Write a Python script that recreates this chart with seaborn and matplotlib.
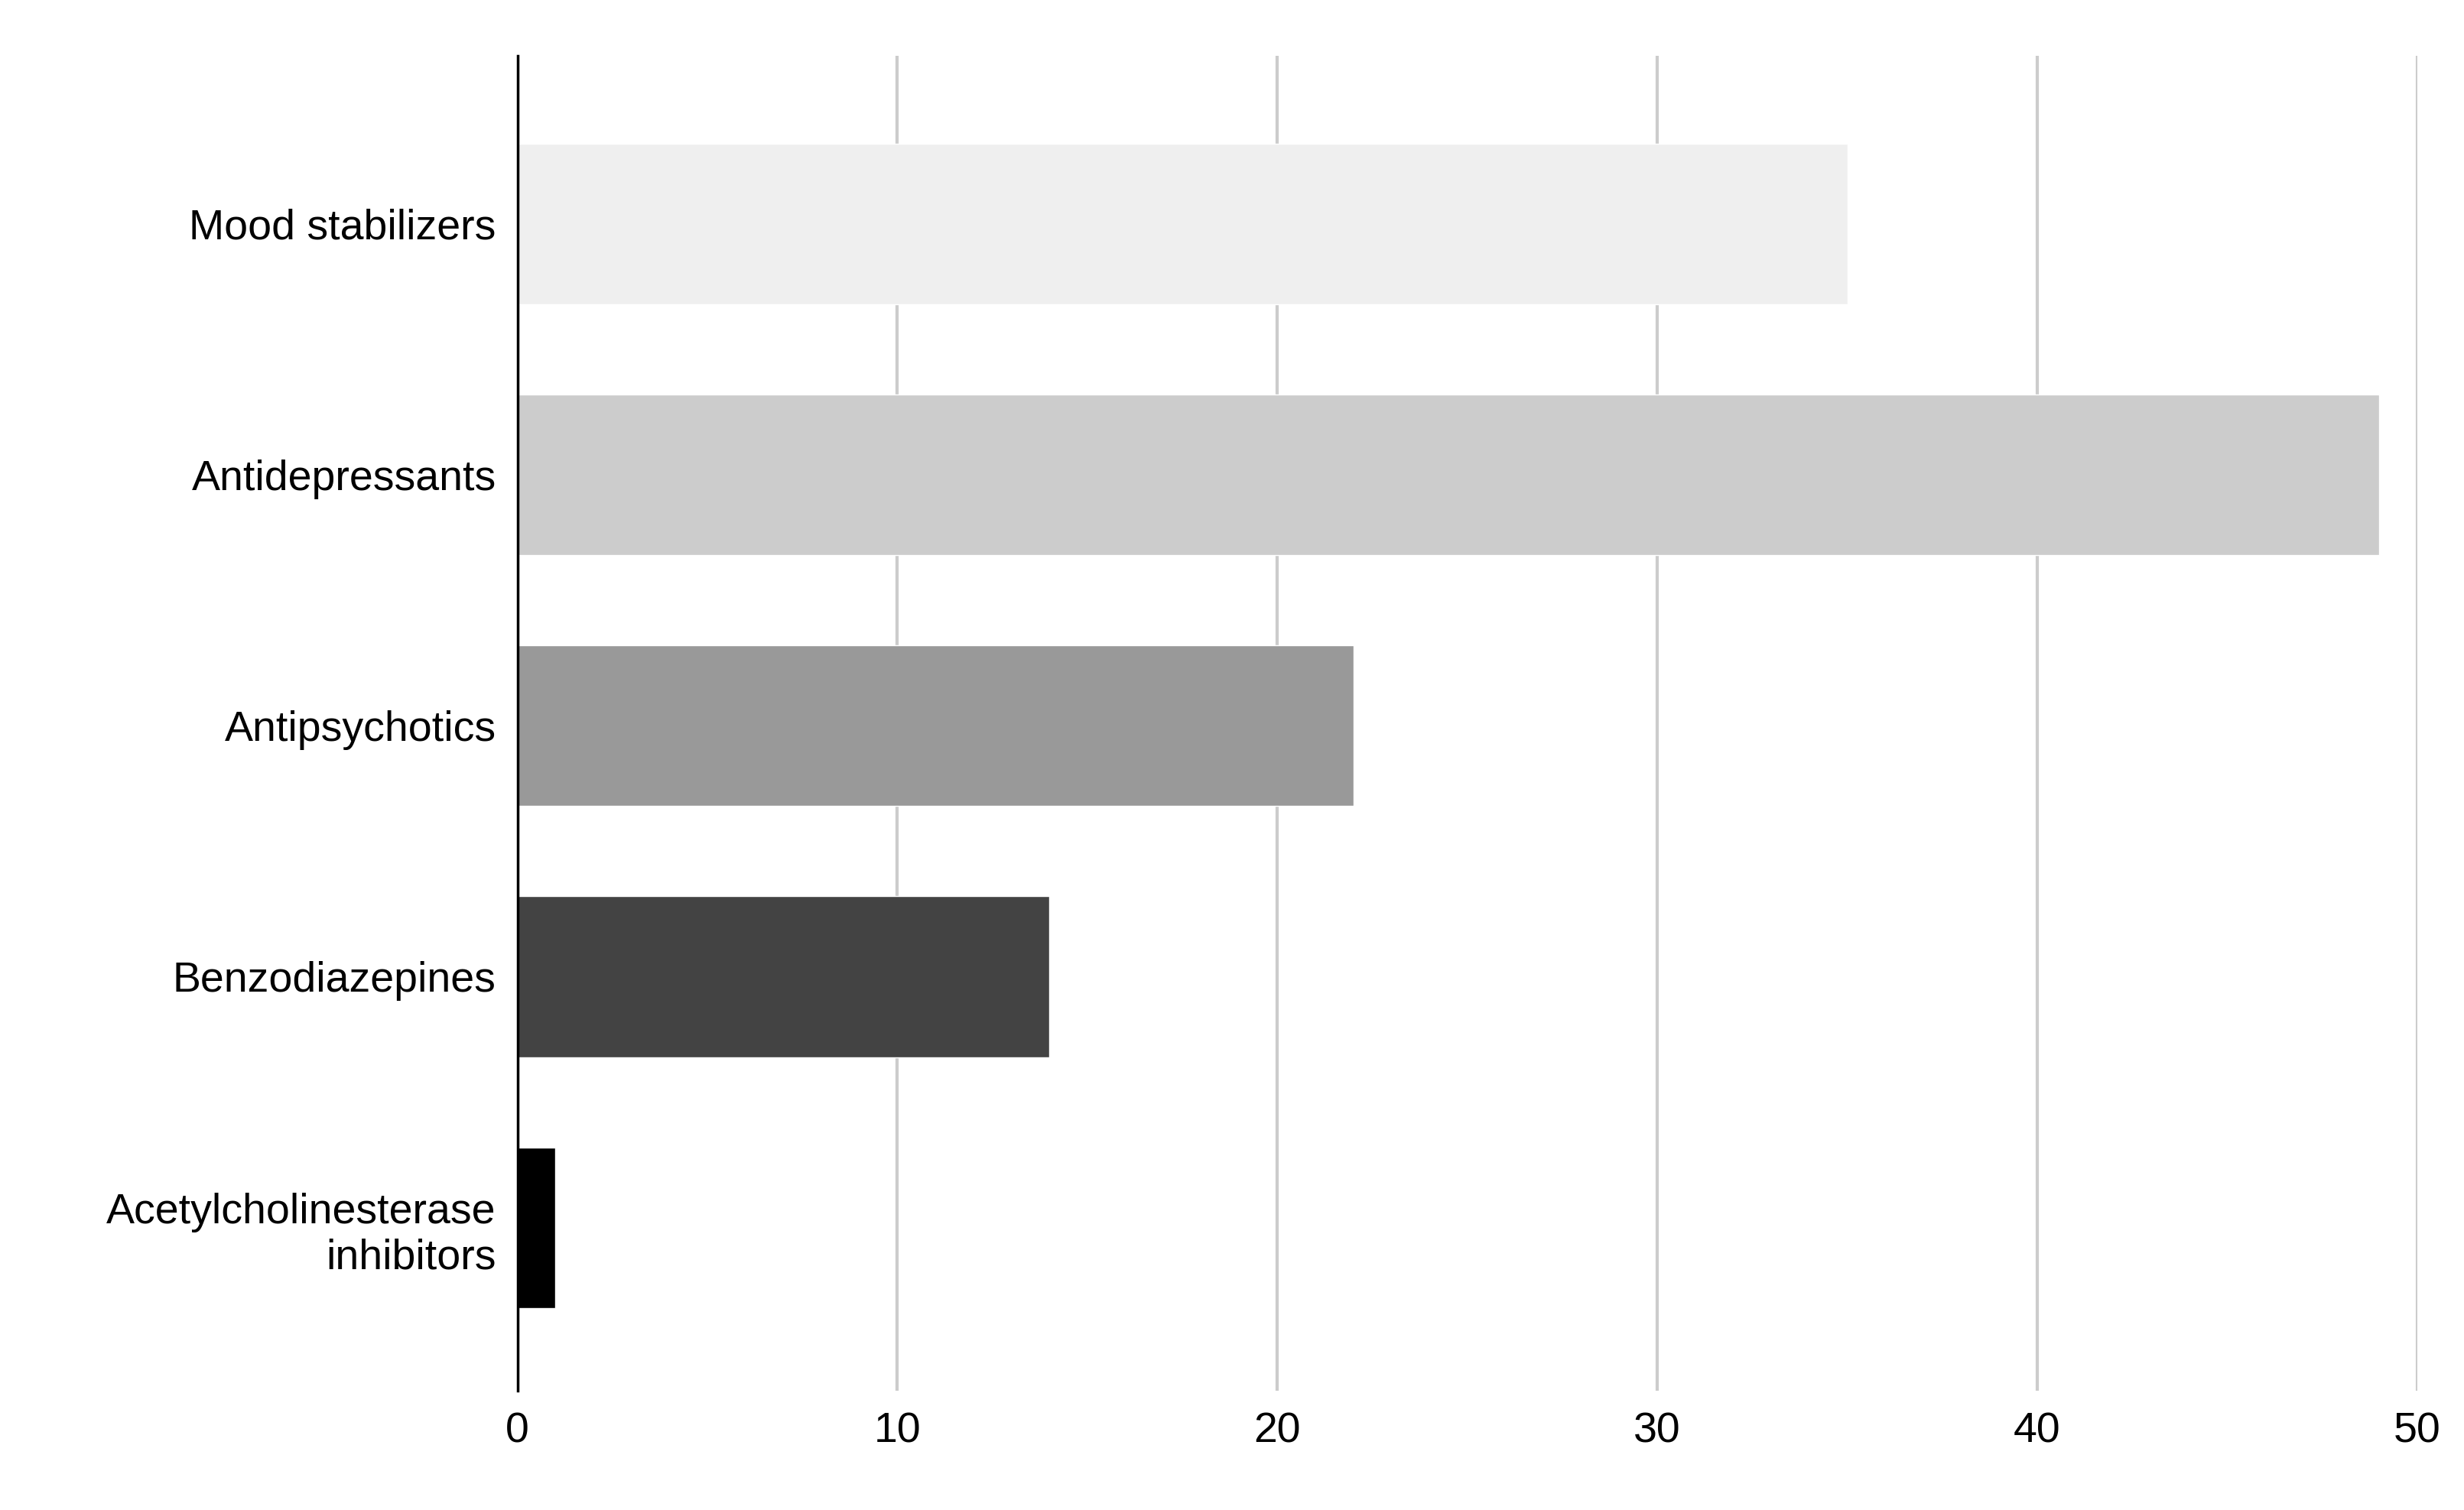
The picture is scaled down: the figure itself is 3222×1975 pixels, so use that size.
import matplotlib
matplotlib.use("Agg")
import matplotlib.pyplot as plt
import seaborn as sns
import pandas as pd

categories = ["Mood stabilizers", "Antidepressants", "Antipsychotics", "Benzodiazepines", "Acetylcholinesterase\ninhibitors"]
values = [35, 49, 22, 14, 1]
colors = ["#efefef", "#cccccc", "#999999", "#434343", "#000000"]
xticks = [0, 10, 20, 30, 40, 50]

sns.set_theme(style="white")
plt.rcParams['font.family'] = ['Liberation Sans', 'DejaVu Sans']

df = pd.DataFrame({"cat": categories, "val": values})
fig = plt.figure(figsize=(32.22, 19.75), dpi=100)
ax = fig.add_axes([0.21, 0.079, 0.771, 0.884])
sns.barplot(data=df, x="val", y="cat", hue="cat", palette=colors, legend=False,
            width=0.64, ax=ax, zorder=3, saturation=1)
ax.set_xlim(0, 50)
ax.set_ylim(4.65, -0.67)
ax.set_xticks(xticks)
ax.set_xlabel("")
ax.set_ylabel("")
ax.grid(axis="x", color="#cccccc", linewidth=3, zorder=0)
for s in ["top", "right", "bottom"]:
    ax.spines[s].set_visible(False)
ax.spines["left"].set_color("black")
ax.spines["left"].set_linewidth(2.5)
ax.spines["left"].set_zorder(4)
ax.tick_params(axis="both", length=0, labelsize=40, colors="black", pad=20)
fig.savefig("out.png", dpi=100)
